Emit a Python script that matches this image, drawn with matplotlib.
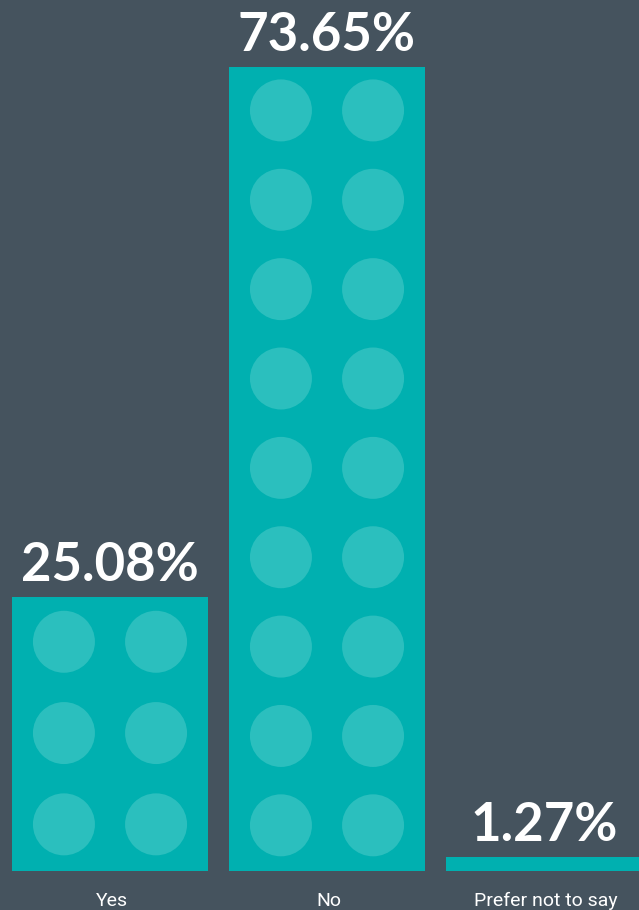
import matplotlib
matplotlib.use("Agg")
import matplotlib.pyplot as plt
from matplotlib.patches import Ellipse

categories = ["Yes", "No", "Prefer not to say"]
values = [25.08, 73.65, 1.27]
labels = ["25.08%", "73.65%", "1.27%"]

BG = "#45535e"
BAR = "#00b0b0"
DOT = "#2bbfbe"

W, H = 639, 910
fig = plt.figure(figsize=(W / 100, H / 100), dpi=100, facecolor=BG)
ax = fig.add_axes([0, 0, 1, 1])
ax.set_facecolor(BG)

px_x = 217.0          # pixels per category step
x0 = 110.0            # pixel center of first bar
px_y = 10.92          # pixels per percent
base = 871.0          # baseline pixel row
ax.set_xlim(-x0 / px_x, (W - x0) / px_x)
ax.set_ylim(-(H - base) / px_y, base / px_y)
ax.axis("off")

bw = 196 / px_x
xs = list(range(len(categories)))
ax.bar(xs, values, width=bw, color=BAR, zorder=2)

r = 31
row_h = 90 / px_y
for x, v in zip(xs, values):
    nrows = int(round(v / row_h)) if v > row_h else 0
    if nrows:
        step = v / nrows
        for k in range(nrows):
            cy = step * (k + 0.5) + 1 / px_y
            for fx in (-0.235, 0.235):
                ax.add_patch(Ellipse((x + fx * bw, cy),
                                     2 * r / px_x, 2 * r / px_y, color=DOT, zorder=3, lw=0))

for x, v, lab in zip(xs, values, labels):
    ax.text(x, v + 16 / px_y, lab, ha="center", va="baseline", color="white",
            fontsize=38, fontweight="bold", family="Lato", zorder=4)

for x, c in zip(xs, categories):
    ax.text(x + 2 / px_x, -(906 - base) / px_y, c, ha="center", va="baseline", color="white",
            fontsize=14, family="Roboto", fontweight="normal", zorder=4)

fig.savefig("out.png", dpi=100, facecolor=BG)
